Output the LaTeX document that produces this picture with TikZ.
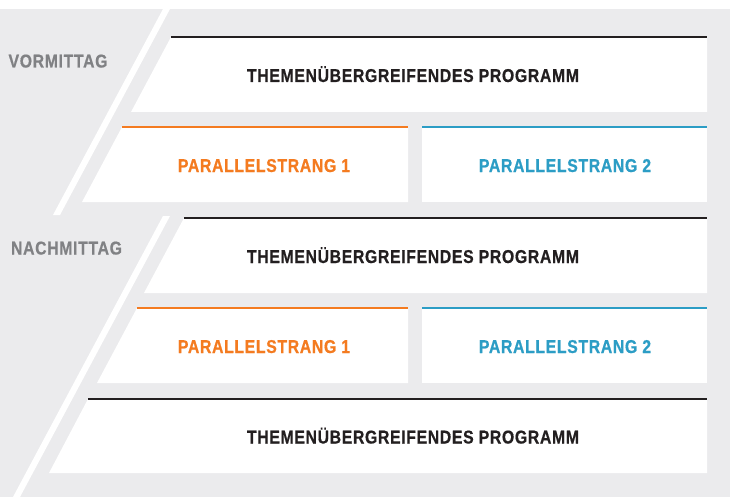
\documentclass[tikz,border=0pt]{standalone}
\usepackage{fontspec}
\newfontfamily\condfont[FakeStretch=0.85, FakeBold=0.6, LetterSpace=3.5]{Liberation Sans}
\definecolor{bggray}{HTML}{EBEBED}
\definecolor{strangorange}{HTML}{F47B20}
\definecolor{strangblue}{HTML}{2C9DC5}
\definecolor{labelgray}{HTML}{808184}
\definecolor{textdark}{HTML}{231F20}
\tikzset{
  topline/.style={line width=2.5pt},
  boxtext/.style={anchor=base, inner sep=0pt, font=\condfont\bfseries\fontsize{18.6}{20}\selectfont},
  daytext/.style={boxtext, text=labelgray}
}

\begin{document}
\begin{tikzpicture}[x=1pt, y=-1pt]
    \useasboundingbox (0,0) rectangle (730,497);
    \fill[white] (0,0) rectangle (730,497);
    \fill[bggray] (0,9) rectangle (730,497);

    % diagonal stripes
    \fill[white] (163,9) -- (170,9) -- (60,215) -- (53,215) -- cycle;
    \fill[white] (163,216) -- (170,216) -- (20,497) -- (13,497) -- cycle;

    \node[daytext] (vormittag) at (58,67.5) {VORMITTAG};
    \node[daytext] (nachmittag) at (66.5,254.5) {NACHMITTAG};

    % vormittag
    \fill[white] (171,37) -- (707,37) -- (707,112) -- (131,112) -- cycle;
    \draw[topline, textdark] (171,37) -- (707,37);
    \node[boxtext, text=textdark] (prog1) at (413,82) {THEMENÜBERGREIFENDES PROGRAMM};

    \fill[white] (122,127) -- (408,127) -- (408,202) -- (82,202) -- cycle;
    \draw[topline, strangorange] (122,127) -- (408,127);
    \node[boxtext, text=strangorange] (strangA1) at (264,172) {PARALLELSTRANG 1};

    \fill[white] (422,127) rectangle (707,202);
    \draw[topline, strangblue] (422,127) -- (707,127);
    \node[boxtext, text=strangblue] (strangB1) at (565,172) {PARALLELSTRANG 2};

    % nachmittag
    \fill[white] (184,218) -- (707,218) -- (707,293) -- (144,293) -- cycle;
    \draw[topline, textdark] (184,218) -- (707,218);
    \node[boxtext, text=textdark] (prog2) at (413,263) {THEMENÜBERGREIFENDES PROGRAMM};

    \fill[white] (137,308) -- (408,308) -- (408,383) -- (97,383) -- cycle;
    \draw[topline, strangorange] (137,308) -- (408,308);
    \node[boxtext, text=strangorange] (strangA2) at (264,353) {PARALLELSTRANG 1};

    \fill[white] (422,308) rectangle (707,383);
    \draw[topline, strangblue] (422,308) -- (707,308);
    \node[boxtext, text=strangblue] (strangB2) at (565,353) {PARALLELSTRANG 2};

    \fill[white] (88,399) -- (707,399) -- (707,473) -- (49,473) -- cycle;
    \draw[topline, textdark] (88,399) -- (707,399);
    \node[boxtext, text=textdark] (prog3) at (413,443.5) {THEMENÜBERGREIFENDES PROGRAMM};
\end{tikzpicture}
\end{document}
